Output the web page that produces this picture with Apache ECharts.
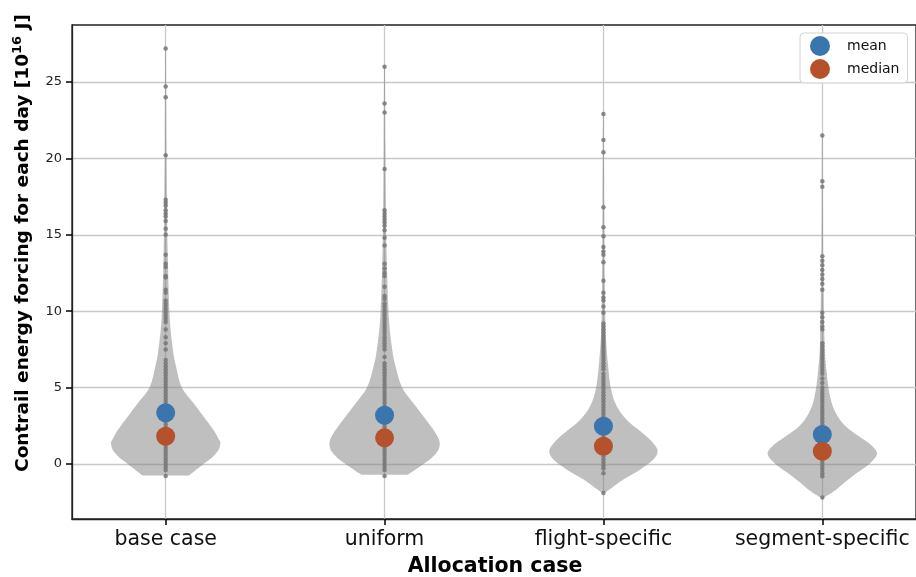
<!DOCTYPE html>
<html><head><meta charset="utf-8">
<script src="https://cdn.jsdelivr.net/npm/echarts@6/dist/echarts.min.js"></script>
<style>html,body{margin:0;padding:0;background:#fff}#c{width:916px;height:577px}</style>
</head><body><div id="c"></div>
<script>
// ---- data ----
const categories = ['base case', 'uniform', 'flight-specific', 'segment-specific'];
const yTickValues = [0, 5, 10, 15, 20, 25];
const xTickValues = [0, 1, 2, 3];
const meanValues = [3.35, 3.19, 2.47, 1.93];
const medianValues = [1.81, 1.71, 1.16, 0.83];

// daily values (gray dots)
const dotsBase = [27.2, 24.7, 24.0, 20.2, 17.3, 17.1, 16.9, 16.6, 16.4, 16.2, 15.9, 15.4, 15.0, 13.7, 13.1, 12.9, 12.3, 12.2, 11.4, 11.2,
  10.7, 10.5, 10.3, 10.1, 9.9, 9.7, 9.5, 9.3, 8.8, 8.3, 7.9, 7.5,
  6.8, 6.6, 6.4, 6.2, 6.0, 5.8, 5.6, 5.4, 5.2, 5.0, 4.8, 4.6, 4.4, 4.2, 4.0, 3.8, 3.6, 3.4, 3.2, 3.0,
  2.8, 2.6, 2.4, 2.2, 2.0, 1.8, 1.6, 1.4, 1.2, 1.0, 0.8, 0.6, 0.4, 0.2, 0.0, -0.2, -0.4, -0.78];
const dotsUniform = [26.0, 23.6, 23.0, 19.3, 16.6, 16.4, 16.2, 16.0, 15.8, 15.6, 15.3, 14.8, 14.3, 13.1, 12.8, 12.5, 12.3, 11.6,
  11.0, 10.8, 10.5, 10.3, 10.1, 9.9, 9.7, 9.5, 9.3, 9.1, 8.9, 8.7, 8.5, 8.3, 8.1, 7.9, 7.7, 7.5, 7.0,
  6.6, 6.4, 6.2, 6.0, 5.8, 5.6, 5.4, 5.2, 5.0, 4.8, 4.6, 4.4, 4.2, 4.0, 3.8, 3.6, 3.4, 3.2, 3.0,
  2.8, 2.6, 2.4, 2.2, 2.0, 1.8, 1.6, 1.4, 1.2, 1.0, 0.8, 0.6, 0.4, 0.2, 0.0, -0.2, -0.4, -0.78];
const dotsFlight = [22.9, 21.2, 20.4, 16.8, 15.5, 14.9, 14.2, 13.9, 13.7, 13.2, 12.0, 11.2, 10.9, 10.7, 10.3, 9.9,
  9.2, 9.0, 8.8, 8.6, 8.4, 8.2, 8.0, 7.8, 7.6, 7.4, 7.2, 7.0, 6.8, 6.6, 6.4, 6.2,
  5.9, 5.7, 5.5, 5.3, 5.1, 4.9, 4.7, 4.5, 4.3, 4.1, 3.9, 3.7, 3.5, 3.3, 3.1, 2.9, 2.7, 2.5, 2.3, 2.1,
  1.9, 1.7, 1.5, 1.3, 1.1, 0.9, 0.7, 0.5, 0.3, 0.1, -0.1, -0.3, -0.6, -1.9];
const dotsSegment = [21.5, 18.5, 18.15, 13.6, 13.3, 13.0, 12.7, 12.4, 12.1, 11.8, 11.4, 9.9, 9.6, 9.3, 9.0, 8.8,
  7.9, 7.7, 7.5, 7.3, 7.1, 6.9, 6.7, 6.5, 6.3, 6.1, 5.9, 5.6, 5.3, 5.0, 4.8,
  4.6, 4.4, 4.2, 4.0, 3.8, 3.6, 3.4, 3.2, 3.0, 2.8, 2.6, 2.4, 2.2, 2.0, 1.8, 1.6, 1.4, 1.2, 1.0,
  0.8, 0.6, 0.4, 0.2, 0.0, -0.2, -0.4, -0.6, -0.8, -2.2];

// violin outlines: [value, half width in category units]
const violinBase = [[-0.75, 0.106], [0.07, 0.179], [0.4, 0.21], [0.73, 0.232], [1.0, 0.244], [1.38, 0.25], [1.6, 0.243],
  [2.25, 0.217], [3.12, 0.172], [4.0, 0.126], [5.02, 0.073], [6.4, 0.047], [7.5, 0.033], [9.7, 0.018],
  [14, 0.009], [17.3, 0.006], [21, 0.004], [27.2, 0.002]];
const violinUniform = [[-0.7, 0.106], [0.07, 0.185], [0.4, 0.215], [0.73, 0.237], [1.0, 0.248], [1.38, 0.252], [1.7, 0.245],
  [2.3, 0.22], [3.1, 0.178], [4.0, 0.13], [5.0, 0.08], [6.4, 0.05], [7.5, 0.035], [9.7, 0.019],
  [14, 0.009], [17, 0.006], [21, 0.004], [26.0, 0.002]];
const violinFlight = [[-1.9, 0.005], [-1.57, 0.038], [-1.02, 0.091], [-0.37, 0.167], [0.29, 0.228], [0.9, 0.247],
  [1.6, 0.212], [2.25, 0.159], [2.9, 0.106], [3.78, 0.061], [4.87, 0.035], [6.6, 0.02], [8.8, 0.01],
  [12, 0.006], [17, 0.004], [22.9, 0.002]];
const violinSegment = [[-2.22, 0.005], [-1.79, 0.053], [-1.24, 0.099], [-0.58, 0.159], [0.07, 0.22], [0.68, 0.25],
  [1.27, 0.22], [1.82, 0.167], [2.47, 0.106], [3.35, 0.061], [4.43, 0.035], [5.97, 0.02], [8.1, 0.01],
  [13, 0.005], [17, 0.003], [21.5, 0.002]];

// ---- build ----
const X_MIN = -0.428, X_MAX = 3.428, Y_MIN = -3.6, Y_MAX = 28.73;
const violins = [violinBase, violinUniform, violinFlight, violinSegment];
const dots = [dotsBase, dotsUniform, dotsFlight, dotsSegment];
const dotData = [];
dots.forEach((arr, i) => arr.forEach(v => dotData.push([i, v])));

// smooth outline (Catmull-Rom -> cubic bezier) through pixel points
function smoothSide(pts, first) {
  let d = (first ? 'M' : 'L') + pts[0][0] + ' ' + pts[0][1];
  for (let k = 0; k < pts.length - 1; k++) {
    const p0 = pts[Math.max(k - 1, 0)], p1 = pts[k], p2 = pts[k + 1], p3 = pts[Math.min(k + 2, pts.length - 1)];
    const t = 1 / 6;
    const c1 = [p1[0] + (p2[0] - p0[0]) * t, p1[1] + (p2[1] - p0[1]) * t];
    const c2 = [p2[0] - (p3[0] - p1[0]) * t, p2[1] - (p3[1] - p1[1]) * t];
    d += ' C' + c1[0] + ' ' + c1[1] + ' ' + c2[0] + ' ' + c2[1] + ' ' + p2[0] + ' ' + p2[1];
  }
  return d;
}

const chart = echarts.init(document.getElementById('c'), null, {renderer: 'canvas'});
const FONT = 'DejaVu Sans';
chart.setOption({
  animation: false,
  grid: {left: 72, top: 25, width: 847, height: 494, show: true, borderColor: '#222', borderWidth: 1.3},
  xAxis: {
    type: 'value', min: X_MIN, max: X_MAX,
    axisLine: {show: true, onZero: false, lineStyle: {color: '#222', width: 1.3}},
    axisTick: {show: true, inside: false, length: 6, customValues: xTickValues, lineStyle: {color: '#000', width: 1.5}},
    axisLabel: {customValues: xTickValues, formatter: v => categories[Math.round(v)], fontSize: 20.5, color: '#111', margin: 10, fontFamily: FONT},
    splitLine: {show: true, lineStyle: {color: '#c8c8c8', width: 1.3}}
  },
  yAxis: {
    type: 'value', min: Y_MIN, max: Y_MAX,
    axisLine: {show: true, onZero: false, lineStyle: {color: '#222', width: 1.3}},
    axisTick: {show: true, inside: false, length: 6, customValues: yTickValues, lineStyle: {color: '#000', width: 1.5}},
    axisLabel: {customValues: yTickValues, fontSize: 13, color: '#222', margin: 10, fontFamily: FONT},
    splitLine: {show: true, lineStyle: {color: '#c8c8c8', width: 1.3}}
  },
  legend: {
    data: ['mean', 'median'], orient: 'vertical', left: 800, top: 33,
    padding: [3, 8, 4, 10], itemGap: 3, itemWidth: 20, itemHeight: 20, icon: 'circle',
    textStyle: {fontSize: 14, color: '#111', padding: [0, 0, 0, 12], fontFamily: FONT},
    borderColor: '#d4d4d4', borderWidth: 1, borderRadius: 4, backgroundColor: 'rgba(255,255,255,0.85)'
  },
  graphic: [
    {type: 'text', x: 23, y: 243, rotation: Math.PI / 2, z: 100,
      style: {text: '{b|Contrail energy forcing for each day [10}{s|16}{b| J]}', align: 'center', verticalAlign: 'middle',
        rich: {b: {fontSize: 18.5, fontWeight: 'bold', fontFamily: FONT, lineHeight: 22, fill: '#000'},
               s: {fontSize: 13, fontWeight: 'bold', fontFamily: FONT, lineHeight: 12, padding: [0, 0, 10, 0], fill: '#000'}}}},
    {type: 'text', x: 495, y: 567, z: 100,
      style: {text: 'Allocation case', align: 'center', verticalAlign: 'middle', fontSize: 20.5, fontWeight: 'bold', fontFamily: FONT, fill: '#000'}}
  ],
  series: [
    {
      type: 'custom', name: 'violin', z: 2,
      data: categories.map((c, i) => [i, 0]),
      encode: {x: 0, y: 1},
      renderItem: function (params, api) {
        const i = api.value(0);
        const prof = violins[i];
        const right = prof.map(p => api.coord([i + p[1], p[0]]));
        const left = prof.slice().reverse().map(p => api.coord([i - p[1], p[0]]));
        const d = smoothSide(right, true) + ' ' + smoothSide(left, false) + ' Z';
        return {type: 'path', shape: {pathData: d}, style: {fill: 'rgba(128,128,128,0.5)', stroke: null}};
      }
    },
    {type: 'scatter', name: 'days', z: 3, data: dotData, symbolSize: 4.5, itemStyle: {color: '#777', opacity: 0.85}},
    {type: 'scatter', name: 'mean', z: 4, data: meanValues.map((v, i) => [i, v]), symbolSize: 19, itemStyle: {color: '#3a75ad', opacity: 1}},
    {type: 'scatter', name: 'median', z: 4, data: medianValues.map((v, i) => [i, v]), symbolSize: 19, itemStyle: {color: '#b5522b', opacity: 1}}
  ]
});
</script></body></html>
